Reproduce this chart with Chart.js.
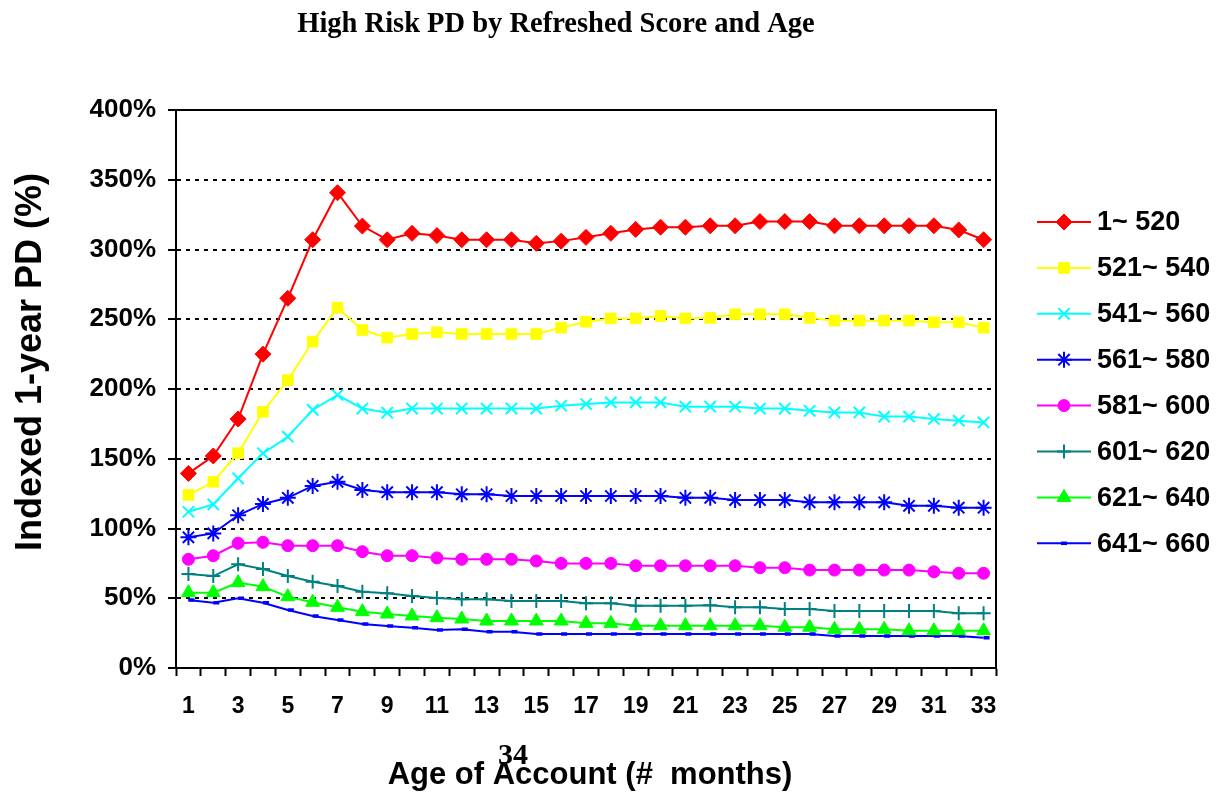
<!DOCTYPE html>
<html>
<head>
<meta charset="utf-8">
<title>High Risk PD by Refreshed Score and Age</title>
<script src="https://cdn.jsdelivr.net/npm/chart.js@4.4.1/dist/chart.umd.min.js"></script>
<style>
  html, body { margin: 0; padding: 0; background: #ffffff; }
  #wrap { position: relative; width: 1229px; height: 793px; }
</style>
</head>
<body>
<div id="wrap"><canvas id="pdChart"></canvas></div>
<script>
// Age of account (months)
const ages = ['1','2','3','4','5','6','7','8','9','10','11','12','13','14','15','16','17',
  '18','19','20','21','22','23','24','25','26','27','28','29','30','31','32','33'];

// Indexed 1-year PD (%) by refreshed score band
const band1to520 = [139.5, 152, 178.5, 225, 265, 307, 340.7, 316.8, 307, 311.6, 310, 307, 307, 307, 304.4, 306, 308.7,
  311.6, 314.4, 316, 316, 317, 317, 320, 320, 320, 317, 317, 317, 317, 317, 314, 307];
const band521to540 = [124, 133.5, 154, 183.7, 206.4, 234, 258.3, 242.3, 236.8, 239.4, 240.6, 239.4, 239.4, 239.4, 239.4, 244, 248.2,
  250.6, 250.6, 252.3, 250.6, 251, 253.5, 253.5, 253.5, 251, 249, 249, 249, 249, 247.8, 247.8, 244];
const band541to560 = [112, 117.3, 136, 153.9, 165.8, 185, 195.7, 186, 183, 186, 186, 186, 186, 186, 186, 188, 189.2,
  190.4, 190.4, 190.4, 187.3, 187.3, 187.3, 186, 186, 184.4, 183.2, 183.2, 180.2, 180.2, 178.5, 177.3, 176];
const band561to580 = [93.7, 96.5, 109.5, 117.6, 122, 130.5, 133.5, 127.6, 126, 126, 126, 124.5, 124.5, 123.3, 123.3, 123.3, 123.3,
  123.3, 123.3, 123.3, 122, 122, 120.4, 120.4, 120.4, 118.8, 118.8, 118.8, 118.8, 116.3, 116.3, 114.9, 114.9];
const band581to600 = [77.9, 80.5, 89.4, 90.1, 87.7, 87.7, 87.7, 83.4, 80.5, 80.5, 78.9, 77.9, 77.9, 77.9, 76.7, 75, 75,
  75, 73.3, 73.3, 73.3, 73.3, 73.3, 71.9, 71.9, 70.2, 70.2, 70.2, 70.2, 70.2, 69, 67.9, 67.9];
const band601to620 = [67.4, 65.9, 74.3, 71, 65.9, 61.9, 58.8, 54.7, 53.5, 51.6, 50.2, 49.2, 49.2, 48, 48, 48, 46.4,
  46.4, 44.7, 44.7, 44.7, 45, 43.5, 43.5, 42.3, 42.3, 40.9, 40.9, 40.9, 40.9, 40.9, 39.2, 39.2];
const band621to640 = [54, 54, 61.2, 58.3, 51.1, 47.1, 43.5, 40.4, 38.7, 37.3, 36.1, 35.1, 33.7, 33.7, 33.7, 33.7, 32,
  32, 30.3, 30.3, 30.3, 30.3, 30.3, 30.3, 29.2, 29.2, 27.7, 27.7, 27.7, 26.7, 26.7, 26.7, 26.7];
const band641to660 = [48.7, 46.8, 50, 46.8, 41.6, 37.3, 34.4, 31.5, 30.1, 28.9, 27.2, 27.7, 26, 26, 24.4, 24.4, 24.4,
  24.4, 24.4, 24.4, 24.4, 24.4, 24.4, 24.4, 24.4, 24.4, 22.9, 22.9, 22.9, 22.9, 22.9, 22.9, 21.7];

const bandLabels = ['1~ 520', '521~ 540', '541~ 560', '561~ 580', '581~ 600', '601~ 620', '621~ 640', '641~ 660'];

const SANS = '"Liberation Sans", Arial, sans-serif';
const SERIF = '"Liberation Serif", "Times New Roman", serif';

// Build one line dataset
function makeSeries(label, data, color, style, radius, borderW) {
    return {
        label: label,
        data: data,
        borderColor: color,
        backgroundColor: color,
        borderWidth: 2,
        tension: 0,
        pointStyle: style,
        pointRadius: radius,
        pointHoverRadius: radius,
        pointBorderWidth: borderW,
        pointBackgroundColor: color,
        pointBorderColor: color
    };
}

const datasets = [
    makeSeries(bandLabels[0], band1to520, '#ff0000', 'rectRot', 8, 1),
    makeSeries(bandLabels[1], band521to540, '#ffff00', 'rect', 7.5, 1),
    makeSeries(bandLabels[2], band541to560, '#00ffff', 'crossRot', 8, 2),
    makeSeries(bandLabels[3], band561to580, '#0000ff', 'star', 8, 2),
    makeSeries(bandLabels[4], band581to600, '#ff00ff', 'circle', 6, 1),
    makeSeries(bandLabels[5], band601to620, '#008080', 'cross', 7, 2),
    makeSeries(bandLabels[6], band621to640, '#00ff00', 'triangle', 8, 1),
    makeSeries(bandLabels[7], band641to660, '#0000ff', 'dash', 6, 3.5)
];

// Texts, frame and legend drawn around the plot
const decorPlugin = {
    id: 'decor',
    afterDraw(chart) {
        const ctx = chart.ctx;
        const area = chart.chartArea;

        // solid frame on top and right
        ctx.save();
        ctx.strokeStyle = '#000000';
        ctx.lineWidth = 2;
        ctx.beginPath();
        ctx.moveTo(area.left, area.top);
        ctx.lineTo(area.right, area.top);
        ctx.lineTo(area.right, area.bottom);
        ctx.stroke();
        ctx.restore();

        // titles
        ctx.save();
        ctx.fillStyle = '#000000';
        ctx.textAlign = 'center';
        ctx.textBaseline = 'middle';
        ctx.font = 'bold 28.5px ' + SERIF;
        ctx.fillText('High Risk PD by Refreshed Score and Age', 556, 25);

        ctx.font = 'bold 31px ' + SANS;
        ctx.fillText('Age of Account (#  months)', 590, 775);

        ctx.font = 'bold 30px ' + SERIF;
        ctx.fillText('34', 513, 756);

        ctx.translate(31, 362);
        ctx.rotate(-Math.PI / 2);
        ctx.font = 'bold 36px ' + SANS;
        ctx.fillText('Indexed 1-year PD (%)', 0, 0);
        ctx.restore();

        // legend: line + marker + label
        chart.data.datasets.forEach((ds, i) => {
            const y = 222 + i * 45.9;
            ctx.save();
            ctx.strokeStyle = ds.borderColor;
            ctx.fillStyle = ds.borderColor;
            ctx.lineWidth = 2;
            ctx.beginPath();
            ctx.moveTo(1037, y);
            ctx.lineTo(1091, y);
            ctx.stroke();
            ctx.lineWidth = ds.pointBorderWidth;
            Chart.helpers.drawPoint(ctx, {
                pointStyle: ds.pointStyle,
                radius: ds.pointRadius,
                borderWidth: ds.pointBorderWidth,
                rotation: 0
            }, ds.pointStyle === 'dash' ? 1061 : 1064, y);
            ctx.fillStyle = '#000000';
            ctx.font = 'bold 27px ' + SANS;
            ctx.textAlign = 'left';
            ctx.textBaseline = 'middle';
            ctx.fillText(ds.label, 1097, y + 1);
            ctx.restore();
        });
    }
};

const ctx = document.getElementById('pdChart').getContext('2d');
const pdChart = new Chart(ctx, {
    type: 'line',
    data: {
        labels: ages,
        datasets: datasets
    },
    options: {
        responsive: true,
        maintainAspectRatio: false,
        animation: false,
        layout: {
            padding: { top: 110, right: 233, bottom: 0, left: 0 }
        },
        plugins: {
            legend: { display: false },
            title: { display: false },
            tooltip: { enabled: false }
        },
        scales: {
            x: {
                type: 'category',
                offset: true,
                afterFit: function(scale) { scale.height = 125; },
                grid: {
                    offset: true,
                    drawOnChartArea: false,
                    drawTicks: true,
                    tickLength: 8,
                    tickColor: '#000000',
                    tickWidth: 2,
                    color: '#000000'
                },
                border: { display: true, color: '#000000', width: 2 },
                ticks: {
                    autoSkip: false,
                    maxRotation: 0,
                    minRotation: 0,
                    padding: 17,
                    color: '#000000',
                    font: { family: SANS, size: 23, weight: 'bold' },
                    callback: function(value, index) {
                        return index % 2 === 0 ? ages[index] : '';
                    }
                }
            },
            y: {
                min: 0,
                max: 400,
                afterFit: function(scale) { scale.width = 176; },
                grid: {
                    color: '#000000',
                    lineWidth: 2,
                    drawTicks: true,
                    tickLength: 8,
                    tickColor: '#000000',
                    tickWidth: 2,
                    tickBorderDash: []
                },
                border: { display: true, color: '#000000', width: 2, dash: [4, 5] },
                ticks: {
                    stepSize: 50,
                    padding: 12,
                    color: '#000000',
                    font: { family: SANS, size: 26, weight: 'bold' },
                    callback: function(value) { return value + '%'; }
                }
            }
        }
    },
    plugins: [decorPlugin]
});
</script>
</body>
</html>
